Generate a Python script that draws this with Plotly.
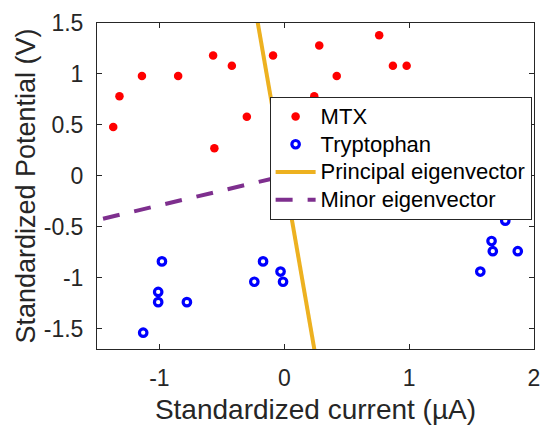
import plotly.graph_objects as go

# Standardized measurements
mtx_x = [-1.37, -1.32, -1.14, -0.85, -0.57, -0.42, -0.56, -0.30, -0.09, 0.28, 0.42, 0.24, 0.76, 0.87, 0.98]
mtx_y = [0.48, 0.78, 0.98, 0.98, 1.18, 1.08, 0.27, 0.58, 1.18, 1.28, 0.98, 0.78, 1.38, 1.08, 1.08]

trp_x = [-0.98, -1.01, -1.01, -0.78, -1.13, -0.24, -0.17, -0.03, -0.01, 1.57, 1.66, 1.67, 1.77, 1.87]
trp_y = [-0.84, -1.14, -1.24, -1.24, -1.54, -1.04, -0.84, -0.94, -1.04, -0.94, -0.64, -0.74, -0.44, -0.74]

# Eigenvector directions (drawn through the origin)
principal_dir = [-0.1414, 1.0]
minor_dir = [1.0, 0.29]
principal_t = [-1.8, 1.8]
minor_t = [-2.2, 2.2]

series_names = ["MTX", "Tryptophan", "Principal eigenvector", "Minor eigenvector"]

x_ticks = [-1, 0, 1, 2]
x_ticktext = ["-1", "0", "1", "2"]
y_ticks = [-1.5, -1, -0.5, 0, 0.5, 1, 1.5]
y_ticktext = ["-1.5", "-1", "-0.5", "0", "0.5", "1", "1.5"]

FONT = "Arial, Liberation Sans, Helvetica, sans-serif"
AXIS_COLOR = "#262626"


def legend_label(text):
    # larger glyphs inside a compact legend row
    return f'<span style="font-size:22px">{text}</span>'


fig = go.Figure()
fig.add_trace(go.Scatter(
    x=mtx_x, y=mtx_y, mode="markers", name=legend_label(series_names[0]),
    marker=dict(symbol="circle", size=8.5, color="#FF0000", line=dict(width=0)),
))
fig.add_trace(go.Scatter(
    x=trp_x, y=trp_y, mode="markers", name=legend_label(series_names[1]),
    marker=dict(symbol="circle-open", size=7.5, color="#0000FF", line=dict(width=3.2, color="#0000FF")),
))
fig.add_trace(go.Scatter(
    x=[t * principal_dir[0] for t in principal_t],
    y=[t * principal_dir[1] for t in principal_t],
    mode="lines", name=legend_label(series_names[2]),
    line=dict(color="#EDB120", width=4),
))
fig.add_trace(go.Scatter(
    x=[t * minor_dir[0] for t in minor_t],
    y=[t * minor_dir[1] for t in minor_t],
    mode="lines", name=legend_label(series_names[3]),
    line=dict(color="#7E2F8E", width=4, dash="17px,15px"),
))

axis_common = dict(
    showgrid=False, zeroline=False, showline=True, linecolor=AXIS_COLOR, linewidth=1,
    mirror="ticks", ticks="inside", ticklen=5, tickcolor=AXIS_COLOR, tickwidth=1,
    tickfont=dict(family=FONT, size=23, color=AXIS_COLOR),
)

fig.update_layout(
    width=550, height=429,
    margin=dict(l=97, r=10, t=18, b=79),
    paper_bgcolor="white", plot_bgcolor="white",
    font=dict(family=FONT, color=AXIS_COLOR),
    xaxis=dict(
        range=[-1.5, 2], tickvals=x_ticks, ticktext=x_ticktext,
        ticklabelstandoff=8,
        title=dict(text="Standardized current (µA)", font=dict(family=FONT, size=28, color=AXIS_COLOR), standoff=9),
        **axis_common,
    ),
    yaxis=dict(
        range=[-1.7, 1.5], tickvals=y_ticks, ticktext=y_ticktext,
        ticklabelstandoff=8,
        title=dict(text="Standardized Potential (V)", font=dict(family=FONT, size=27, color=AXIS_COLOR), standoff=0),
        **axis_common,
    ),
    legend=dict(
        x=0.395, y=0.774, xanchor="left", yanchor="top",
        bgcolor="white", bordercolor=AXIS_COLOR, borderwidth=1,
        font=dict(family=FONT, size=19, color="black"),
        itemwidth=40, tracegroupgap=0,
    ),
    showlegend=True,
)

fig.write_html("out.html")
